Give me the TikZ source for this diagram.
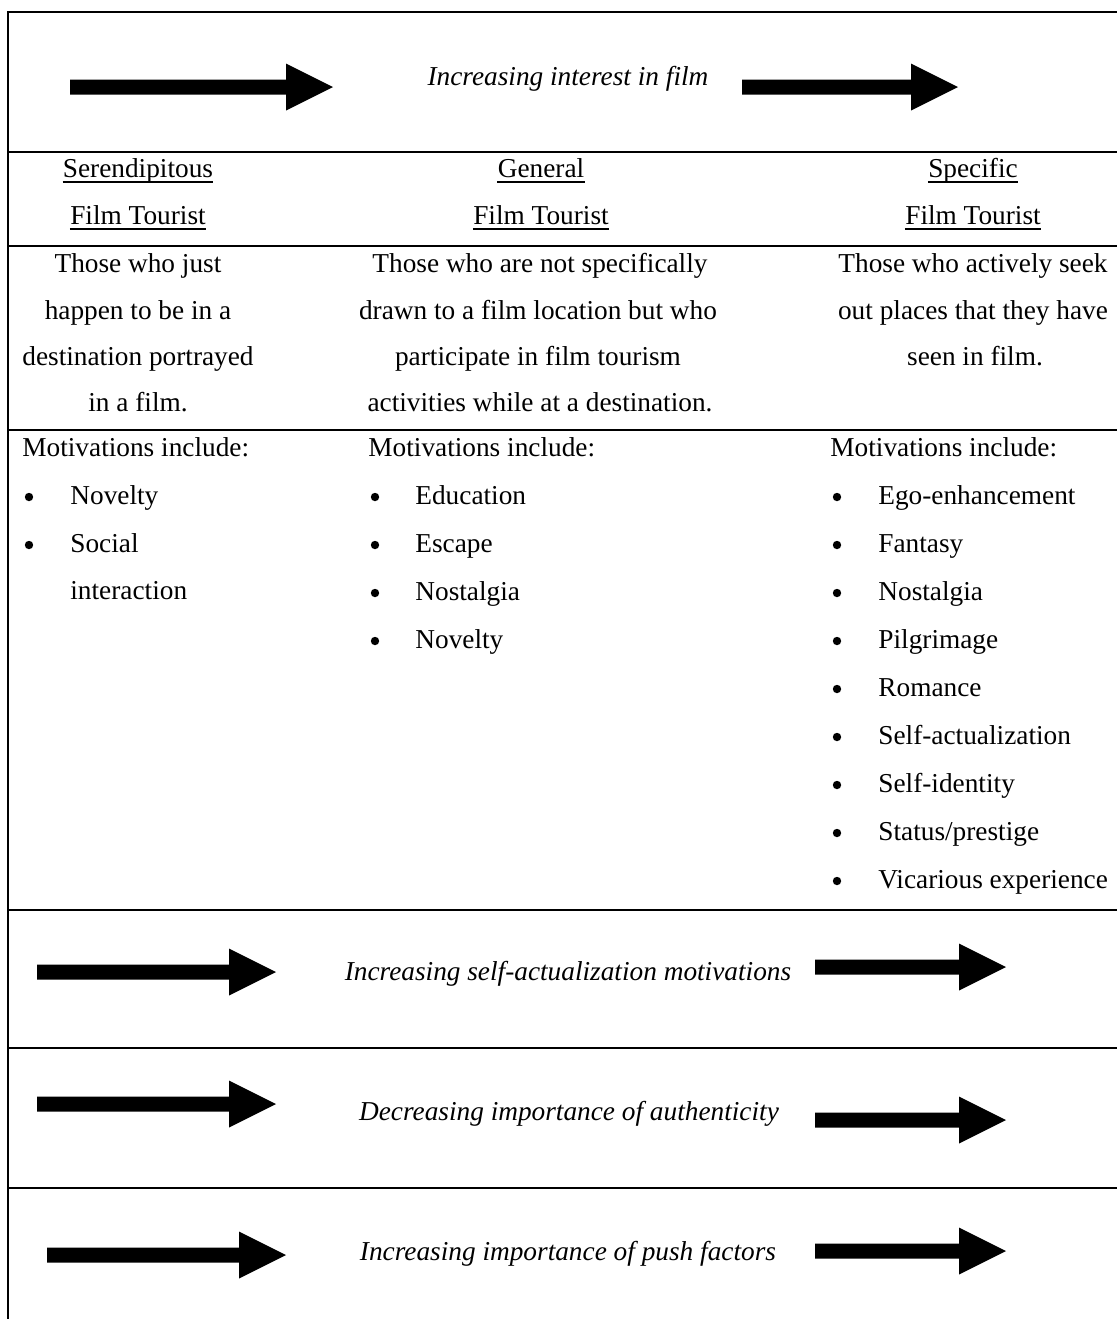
\documentclass[tikz,border=0pt]{standalone}
\usepackage{fontspec}
\setmainfont{Liberation Serif}

% one unit = one pixel of the drawn table, y grows downward
\tikzset{
  rule/.style={line width=1pt},
  underl/.style={line width=0.75pt},
  body/.style={inner sep=0pt, font=\fontsize{13.65}{16}\selectfont},
  ctrtext/.style={body, anchor=base},
  lfttext/.style={body, anchor=base west},
  trend/.style={body, anchor=base, font=\fontsize{13.65}{16}\selectfont\itshape},
  bulletdot/.style={circle, fill=black, inner sep=0pt, minimum size=4.2pt},
  blk/.style={fill=black},
}

% thick block arrow: tail x, tip x, centre y
\newcommand\blockarrow[3]{%
  \fill[blk] (#1,#3-7.5) -- (#2-47,#3-7.5) -- (#2-47,#3-23.5) -- (#2,#3)
    -- (#2-47,#3+23.5) -- (#2-47,#3+7.5) -- (#1,#3+7.5) -- cycle;}

\begin{document}
\begin{tikzpicture}[x=0.5pt,y=-0.5pt]
\useasboundingbox (0,0) rectangle (1117,1319);

% frame and row rules
\draw[rule, line join=miter] (8,1319) -- (8,12) -- (1117,12);
\foreach \y in {152,246,430,910,1048,1188}
  \draw[rule] (8,\y) -- (1117,\y);

% trend row at the top
\blockarrow{70}{333}{87}
\node[trend] (interest) at (568,85) {Increasing interest in film};
\blockarrow{742}{958}{87}

% column headings, underlined
\node[ctrtext] (serA) at (138,177) {Serendipitous};
\node[ctrtext] (serB) at (138,224) {Film Tourist};
\node[ctrtext] (genA) at (541,177) {General};
\node[ctrtext] (genB) at (541,224) {Film Tourist};
\node[ctrtext] (speA) at (973,177) {Specific};
\node[ctrtext] (speB) at (973,224) {Film Tourist};
\foreach \n in {serA,serB,genA,genB,speA,speB}
  \draw[underl] ([yshift=-2.6pt]\n.base west) -- ([yshift=-2.6pt]\n.base east);

% descriptions
\node[ctrtext] (d1a) at (138,272) {Those who just};
\node[ctrtext] (d1b) at (138,319) {happen to be in a};
\node[ctrtext] (d1c) at (138,365) {destination portrayed};
\node[ctrtext] (d1d) at (138,411) {in a film.};

\node[ctrtext] (d2a) at (540,272) {Those who are not specifically};
\node[ctrtext] (d2b) at (538,319) {drawn to a film location but who};
\node[ctrtext] (d2c) at (538,365) {participate in film tourism};
\node[ctrtext] (d2d) at (540,411) {activities while at a destination.};

\node[ctrtext] (d3a) at (973,272) {Those who actively seek};
\node[ctrtext] (d3b) at (973,319) {out places that they have};
\node[ctrtext] (d3c) at (975,365) {seen in film.};

% motivations
\node[lfttext] (m1) at (22,456) {Motivations include:};
\node[lfttext] (m2) at (368,456) {Motivations include:};
\node[lfttext] (m3) at (830,456) {Motivations include:};

\foreach \t [count=\i] in {Novelty,Social}{
  \node[bulletdot] (m1dot\i) at (29,449+48*\i) {};
  \node[lfttext] (m1item\i) at (70,456+48*\i) {\t};
}
\node[lfttext] (m1item3) at (70,599) {interaction};

\foreach \t [count=\i] in {Education,Escape,Nostalgia,Novelty}{
  \node[bulletdot] (m2dot\i) at (375,449+48*\i) {};
  \node[lfttext] (m2item\i) at (415,456+48*\i) {\t};
}

\foreach \t [count=\i] in {Ego-enhancement,Fantasy,Nostalgia,Pilgrimage,Romance,
    Self-actualization,Self-identity,Status/prestige,Vicarious experience}{
  \node[bulletdot] (m3dot\i) at (837,449+48*\i) {};
  \node[lfttext] (m3item\i) at (878,456+48*\i) {\t};
}

% trend rows at the bottom
\blockarrow{37}{276}{972}
\node[trend] (selfact) at (568,980) {Increasing self-actualization motivations};
\blockarrow{815}{1006}{967}

\blockarrow{37}{276}{1104}
\node[trend] (authent) at (569,1120) {Decreasing importance of authenticity};
\blockarrow{815}{1006}{1120}

\blockarrow{47}{286}{1255}
\node[trend] (push) at (568,1260) {Increasing importance of push factors};
\blockarrow{815}{1006}{1251}
\end{tikzpicture}
\end{document}
